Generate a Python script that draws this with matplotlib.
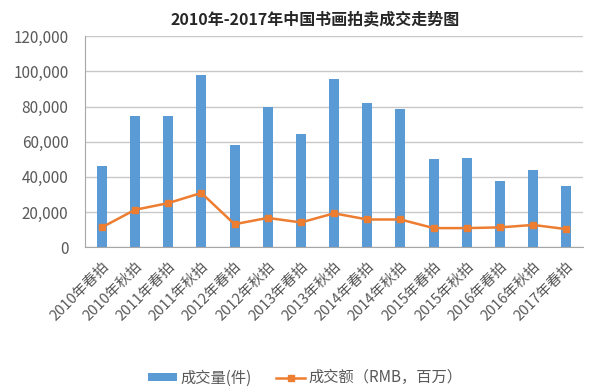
import matplotlib
matplotlib.use('Agg')
import matplotlib.pyplot as plt
import numpy as np
from matplotlib.ticker import FuncFormatter

plt.rcParams['font.family'] = ['Noto Sans CJK SC', 'DejaVu Sans']

# data
labels = ['2010年春拍', '2010年秋拍', '2011年春拍', '2011年秋拍', '2012年春拍',
          '2012年秋拍', '2013年春拍', '2013年秋拍', '2014年春拍', '2014年秋拍',
          '2015年春拍', '2015年秋拍', '2016年春拍', '2016年秋拍', '2017年春拍']
volume = [46500, 74500, 74500, 98000, 58000, 80000, 64500, 95500, 82000,
          78500, 50000, 50600, 37500, 44000, 35000]
amount = [11300, 21300, 25100, 30900, 13100, 16700, 14100, 19300, 15800,
          15800, 10900, 10900, 11300, 12700, 10300]

bar_color = '#5B9BD5'
line_color = '#ED7D31'
grey = '#595959'

fig = plt.figure(figsize=(6.13, 3.9), dpi=100)
ax = fig.add_axes([0.139, 0.366, 0.812, 0.541])

x = np.arange(len(labels))
bars = ax.bar(x, volume, width=0.3, color=bar_color, zorder=2, label='成交量(件)')
line, = ax.plot(x, amount, color=line_color, linewidth=1.8, marker='s',
                markersize=5, zorder=3, label='成交额（RMB，百万）')

ax.set_xlim(-0.5, len(labels) - 0.5)
ax.set_ylim(0, 120000)
ax.set_yticks(np.arange(0, 120001, 20000))
ax.yaxis.set_major_formatter(FuncFormatter(lambda v, p: f'{int(v):,}'))
ax.grid(axis='y', color='#C8C8C8', linewidth=1, zorder=0)

ax.set_xticks(x)
ax.set_xticklabels(labels, rotation=45, ha='right', rotation_mode='anchor',
                   fontsize=10.5, color=grey)
ax.tick_params(axis='y', labelsize=11, labelcolor=grey, length=0, pad=12)
ax.tick_params(axis='x', length=0, pad=9)

for s in ['top', 'right']:
    ax.spines[s].set_visible(False)
ax.spines['left'].set_color('#A6A6A6')
ax.spines['bottom'].set_color('#A6A6A6')

fig.text(0.514, 0.951, '2010年-2017年中国书画拍卖成交走势图', ha='center',
         va='center', fontsize=11.5, fontweight='bold', color='#262626')

fig.legend(handles=[bars, line], loc='center', bbox_to_anchor=(0.498, 0.031),
           ncol=2, frameon=False, fontsize=11, labelcolor=grey,
           handlelength=1.9, handleheight=0.5, handletextpad=0.2,
           columnspacing=1.6)

fig.savefig('out.png', dpi=100)
